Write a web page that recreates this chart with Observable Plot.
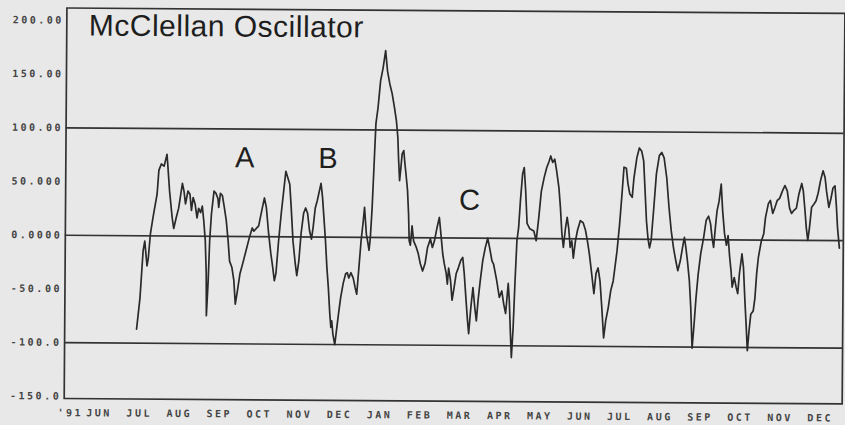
<!DOCTYPE html>
<html>
<head>
<meta charset="utf-8">
<script src="https://cdn.jsdelivr.net/npm/d3@7"></script>
<script src="https://cdn.jsdelivr.net/npm/@observablehq/plot@0.6"></script>
<style>
html, body { margin: 0; padding: 0; background: #e8e8e8; overflow: hidden; }
#chart svg { display: block; transform: rotate(0.4deg); }
</style>
</head>
<body>
<div id="chart"></div>
<script>
// Months since 1 June 1991 (fractional position of each reading)
const monthPos = [
1.42,1.50,1.57,1.61,1.67,1.70,1.75,1.82,1.91,1.95,
2.01,2.08,2.15,2.17,2.22,2.29,2.33,2.39,2.45,2.54,
2.58,2.62,2.68,2.73,2.77,2.81,2.86,2.91,2.95,3.00,
3.04,3.08,3.12,3.15,3.16,3.20,3.23,3.27,3.33,3.38,
3.43,3.45,3.49,3.54,3.59,3.64,3.69,3.73,3.79,3.84,
3.88,3.93,3.99,4.06,4.14,4.22,4.29,4.33,4.45,4.54,
4.59,4.64,4.70,4.76,4.81,4.85,4.89,4.95,5.01,5.07,
5.12,5.17,5.22,5.26,5.31,5.37,5.41,5.46,5.51,5.57,
5.62,5.67,5.72,5.77,5.81,5.86,5.91,5.96,6.00,6.04,
6.09,6.12,6.16,6.20,6.24,6.27,6.29,6.32,6.37,6.41,
6.46,6.51,6.57,6.63,6.67,6.71,6.76,6.82,6.87,6.91,
6.96,7.01,7.06,7.09,7.14,7.17,7.21,7.24,7.28,7.32,
7.36,7.41,7.47,7.53,7.59,7.64,7.70,7.76,7.82,7.87,
7.91,7.93,7.96,7.99,8.02,8.06,8.09,8.12,8.16,8.19,
8.21,8.24,8.28,8.32,8.39,8.44,8.49,8.55,8.61,8.67,
8.74,8.79,8.84,8.90,8.96,9.00,9.05,9.09,9.14,9.17,
9.20,9.25,9.29,9.34,9.39,9.44,9.50,9.55,9.59,9.64,
9.68,9.71,9.76,9.81,9.86,9.90,9.94,9.99,10.05,10.11,
10.17,10.22,10.28,10.32,10.40,10.47,10.53,10.58,10.63,10.69,
10.72,10.75,10.78,10.82,10.86,10.90,10.94,10.98,11.03,11.07,
11.11,11.15,11.22,11.32,11.38,11.44,11.50,11.57,11.63,11.69,
11.73,11.78,11.83,11.88,11.94,11.98,12.02,12.06,12.11,12.15,
12.19,12.23,12.27,12.31,12.36,12.41,12.48,12.55,12.61,12.66,
12.71,12.77,12.83,12.88,12.93,12.98,13.03,13.08,13.13,13.19,
13.25,13.31,13.40,13.46,13.52,13.56,13.62,13.66,13.71,13.77,
13.81,13.88,13.94,14.00,14.05,14.09,14.13,14.17,14.21,14.25,
14.31,14.37,14.44,14.50,14.56,14.63,14.69,14.75,14.81,14.87,
14.92,14.98,15.05,15.08,15.12,15.16,15.21,15.25,15.29,15.33,
15.38,15.43,15.49,15.56,15.62,15.68,15.73,15.77,15.81,15.85,
15.89,15.94,15.99,16.03,16.08,16.13,16.17,16.21,16.25,16.28,
16.33,16.38,16.42,16.46,16.52,16.56,16.60,16.64,16.67,16.71,
16.75,16.81,16.85,16.89,16.93,17.00,17.06,17.10,17.17,17.22,
17.28,17.33,17.39,17.45,17.52,17.58,17.64,17.70,17.75,17.81,
17.87,17.93,18.00,18.04,18.08,18.12,18.16,18.20,18.25,18.31,
18.36,18.41,18.47,18.53,18.58,18.62,18.68,18.73,18.78,18.83,
18.87,18.90,18.95
];

// McClellan Oscillator readings
const osc = [
-87,-58,-14,-5,-28,-21,2,19,39,61,
67,65,76,67,42,17,7,17,26,49,
42,30,42,39,24,36,30,17,26,22,
28,14,-4,-35,-74,-41,-4,21,42,40,
35,27,40,38,27,15,-4,-23,-29,-41,
-63,-51,-35,-25,-13,-1,8,5,10,27,
36,27,3,-16,-29,-41,-34,-4,21,43,
61,55,49,27,-4,-25,-36,-22,3,22,
27,22,6,-2,9,27,34,43,50,37,
12,-3,-28,-47,-71,-84,-78,-90,-100,-87,
-71,-56,-43,-34,-33,-38,-33,-38,-47,-53,
-28,-3,15,28,3,-3,-12,0,28,67,
106,121,146,158,174,155,143,134,121,109,
93,74,53,65,78,81,69,59,44,22,
-3,-7,11,-3,-9,-15,-24,-31,-24,-9,
-1,-9,-3,9,19,4,-15,-24,-33,-43,
-28,-40,-58,-46,-33,-28,-21,-18,-33,-58,
-77,-89,-65,-46,-65,-77,-58,-40,-21,-9,
0,-9,-21,-24,-39,-55,-49,-61,-70,-42,
-58,-86,-111,-83,-39,-2,10,35,60,66,
44,14,9,7,-2,19,44,57,66,72,
77,71,74,63,47,29,5,-8,10,20,
10,-8,-2,-18,-2,8,17,15,8,-2,
-14,-32,-51,-32,-27,-39,-64,-92,-76,-64,
-48,-39,-11,14,45,67,66,52,42,39,
57,76,85,82,73,45,17,1,-8,-1,
29,61,78,81,76,57,30,8,-8,-20,
-29,-20,-4,2,-8,-20,-38,-63,-101,-82,
-54,-32,-13,2,18,22,15,2,-7,11,
27,36,52,27,6,-5,4,-15,-29,-44,
-35,-44,-50,-31,-13,-26,-56,-82,-103,-84,
-69,-66,-54,-31,-16,-1,6,21,34,37,
25,30,37,39,46,51,46,30,25,28,
30,43,53,46,30,12,0,12,31,34,
37,44,56,65,59,46,31,39,49,51,
31,12,-7
];

const monthLabels = ["JUN","JUL","AUG","SEP","OCT","NOV","DEC","JAN","FEB","MAR","APR","MAY","JUN","JUL","AUG","SEP","OCT","NOV","DEC"];
const yearLabel = "'91";
const yTicks = [200, 150, 100, 50, 0, -50, -100, -150];
const yTickLabels = ["200.00","150.00","100.00","50.000","0.0000","-50.00","-100.0","-150.0"];
const referenceLevels = [100, 0, -100];
const title = "McClellan Oscillator";
const annLabels = ["A", "B", "C"];
const annMonth = [4.09, 6.17, 9.71];
const annValue = [73, 73, 35];

const data = monthPos.map((m, i) => ({m, v: osc[i]}));
const monthTicks = monthLabels.map((_, i) => i + 0.5);
const yLabelMap = new Map(yTicks.map((t, i) => [t, yTickLabels[i]]));
const annotations = annLabels.map((t, i) => ({t, m: annMonth[i], v: annValue[i]}));

const tickFont = {fontFamily: "DejaVu Sans Mono, monospace", fontSize: 10, fontWeight: "bold", fill: "#444444"};
const ink = "#333333";

const chart = Plot.plot({
  width: 845,
  height: 425,
  marginLeft: 65,
  marginRight: 2,
  marginTop: 10,
  marginBottom: 24.5,
  style: {background: "transparent", overflow: "visible"},
  x: {domain: [-0.374, 19.047]},
  y: {domain: [-152, 211.6]},
  marks: [
    Plot.frame({stroke: ink, strokeWidth: 1.7}),
    Plot.ruleY(referenceLevels, {stroke: ink, strokeWidth: 1.7}),
    Plot.line(data, {x: "m", y: "v", stroke: "#2a2a2a", strokeWidth: 1.7, strokeLinejoin: "round"}),
    Plot.axisY({ticks: yTicks, tickFormat: d => yLabelMap.get(d), tickSize: 0, tickPadding: 3, label: null, ...tickFont}),
    Plot.axisX({ticks: monthTicks, tickFormat: d => monthLabels[Math.round(d - 0.5)], tickSize: 0, tickPadding: 10.5, label: null, ...tickFont}),
    Plot.text([yearLabel], {x: [0.5], text: d => d, frameAnchor: "bottom", lineAnchor: "top", textAnchor: "end", dx: -16, dy: 10.5, ...tickFont}),
    Plot.text([title], {frameAnchor: "top-left", dx: 22, dy: 6, lineAnchor: "top", textAnchor: "start",
      fontFamily: "Liberation Sans, Arial, sans-serif", fontSize: 30, fill: "#1e1e1e"}),
    Plot.text(annotations, {x: "m", y: "v", text: "t", lineAnchor: "middle", textAnchor: "middle",
      fontFamily: "Liberation Sans, Arial, sans-serif", fontSize: 29, fill: "#1e1e1e"})
  ]
});

d3.select(chart).selectAll('g[aria-label="x-axis tick label"] text, g[aria-label="y-axis tick label"] text')
  .style("letter-spacing", "2.5px");
d3.select(chart).selectAll('g[aria-label="text"] text')
  .filter(function() { return this.textContent === yearLabel; })
  .style("letter-spacing", "2.5px");
d3.select(chart).selectAll('g[aria-label="text"] text')
  .filter(function() { return this.textContent === title; })
  .style("letter-spacing", "0.5px");

document.getElementById("chart").appendChild(chart);
</script>
</body>
</html>
